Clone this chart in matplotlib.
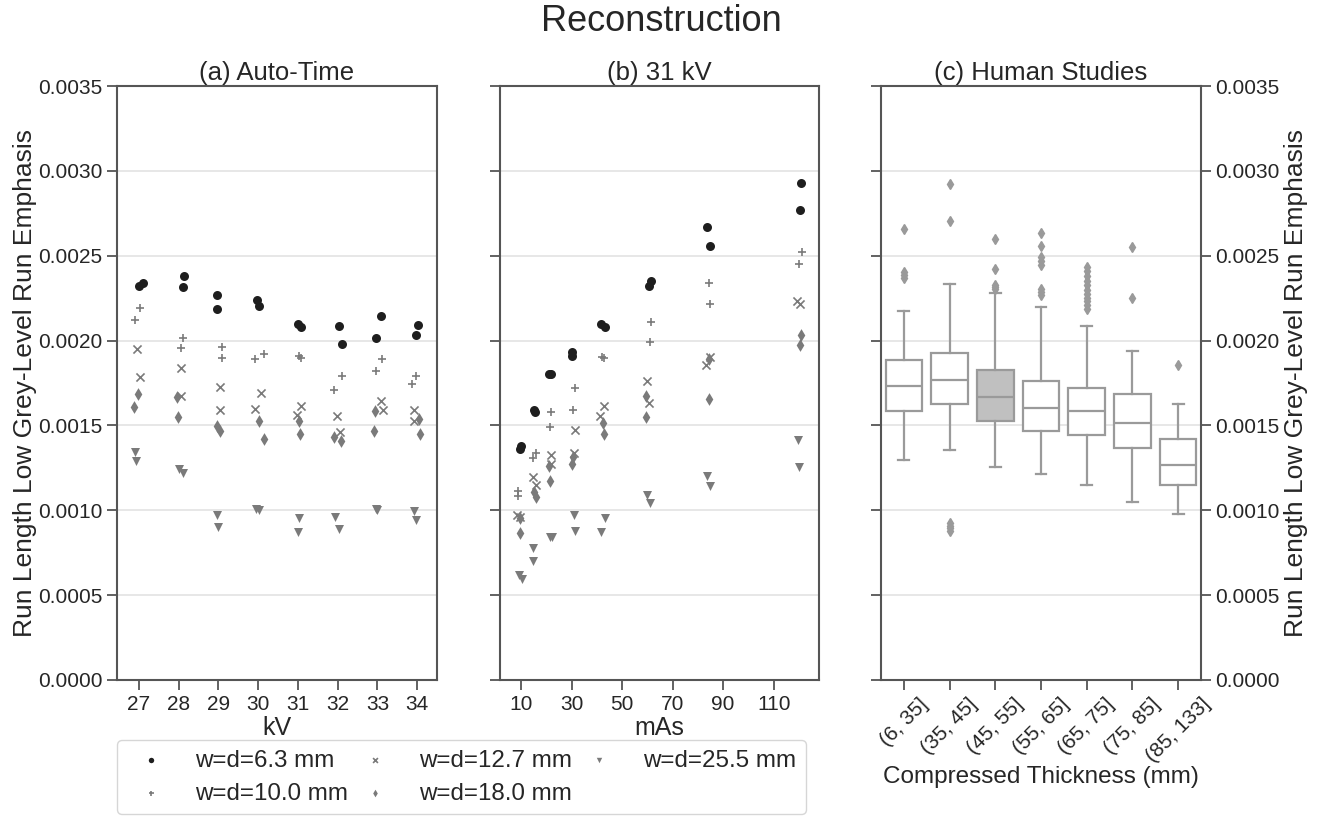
import matplotlib
matplotlib.use("Agg")
import matplotlib.pyplot as plt

plt.rcParams['font.family'] = ['Liberation Sans', 'DejaVu Sans']

# ---- (a) Auto-Time: kV vs value, two samples per kV ----
a_x_63 = [27.0, 27.11, 28.13, 28.1, 28.97, 28.97, 29.97, 30.02, 30.99, 31.08, 32.03, 32.1, 33.08, 32.97, 34.03, 33.97]
a_y_63 = [0.002322, 0.002338, 0.002382, 0.002314, 0.002270, 0.002188, 0.002240, 0.002205,
          0.002100, 0.002077, 0.002088, 0.001978, 0.002142, 0.002013, 0.002093, 0.002032]
a_x_100 = [27.02, 26.9, 28.12, 28.05, 29.09, 29.09, 29.91, 30.14, 31.02, 31.08, 32.11, 31.92, 33.12, 32.97, 33.98, 33.88]
a_y_100 = [0.002193, 0.002119, 0.002016, 0.001955, 0.001964, 0.001899, 0.001892, 0.001918,
           0.001908, 0.001897, 0.001794, 0.001708, 0.001892, 0.001820, 0.001792, 0.001745]
a_x_127 = [26.96, 27.03, 28.05, 28.05, 29.04, 29.03, 30.06, 29.91, 31.09, 30.97, 31.99, 32.05, 33.08, 33.13, 33.93, 33.92]
a_y_127 = [0.001948, 0.001785, 0.001841, 0.001673, 0.001729, 0.001593, 0.001691, 0.001598,
           0.001617, 0.001561, 0.001556, 0.001463, 0.001645, 0.001591, 0.001593, 0.001524]
a_x_180 = [26.97, 26.88, 27.97, 27.98, 28.97, 29.03, 30.03, 30.14, 31.02, 31.06, 31.92, 32.08, 32.94, 32.92, 34.04, 34.08]
a_y_180 = [0.001685, 0.001610, 0.001668, 0.001551, 0.001498, 0.001470, 0.001528, 0.001418,
           0.001524, 0.001451, 0.001430, 0.001411, 0.001586, 0.001470, 0.001535, 0.001451]
a_x_255 = [26.91, 26.92, 28.0, 28.11, 28.97, 29.0, 29.95, 30.02, 31.02, 31.01, 31.94, 32.04, 32.97, 33.0, 33.91, 33.97]
a_y_255 = [0.001346, 0.001288, 0.001241, 0.001218, 0.000973, 0.000903, 0.001010, 0.000999,
           0.000952, 0.000870, 0.000961, 0.000891, 0.001008, 0.000999, 0.000996, 0.000945]

# ---- (b) 31 kV: mAs vs value ----
b_x_63 = [10.0, 9.7, 15.0, 15.7, 21.0, 21.7, 30.1, 30.3, 41.5, 43.4, 60.7, 61.5, 83.5, 84.8, 120.9, 120.3]
b_y_63 = [0.001377, 0.001360, 0.001591, 0.001580, 0.001801, 0.001801, 0.001932, 0.001908,
          0.002100, 0.002077, 0.002322, 0.002352, 0.002667, 0.002555, 0.002928, 0.002770]
b_x_100 = [8.7, 8.7, 14.6, 16.0, 21.9, 21.3, 31.2, 30.5, 42.2, 42.7, 61.3, 61.0, 84.2, 84.6, 121.0, 119.9]
b_y_100 = [0.001113, 0.001085, 0.001307, 0.001337, 0.001580, 0.001488, 0.001722, 0.001589,
           0.001902, 0.001900, 0.002112, 0.001992, 0.002340, 0.002217, 0.002520, 0.002450]
b_x_127 = [8.4, 9.6, 14.6, 16.0, 21.7, 21.9, 31.5, 30.9, 42.7, 41.4, 59.7, 60.7, 84.6, 83.2, 119.3, 120.3]
b_y_127 = [0.000973, 0.000961, 0.001195, 0.001148, 0.001323, 0.001271, 0.001474, 0.001337,
           0.001617, 0.001556, 0.001762, 0.001633, 0.001902, 0.001855, 0.002235, 0.002217]
b_x_180 = [9.7, 9.6, 15.0, 16.0, 21.0, 21.3, 30.5, 30.3, 42.5, 42.7, 59.4, 59.4, 84.2, 84.4, 120.6, 120.2]
b_y_180 = [0.000957, 0.000868, 0.001108, 0.001078, 0.001260, 0.001171, 0.001313, 0.001271,
           0.001517, 0.001447, 0.001673, 0.001551, 0.001890, 0.001657, 0.002030, 0.001972]
b_x_255 = [9.3, 10.3, 14.6, 14.6, 21.3, 22.3, 30.8, 31.2, 43.1, 41.8, 59.7, 61.0, 83.5, 84.8, 119.5, 119.9]
b_y_255 = [0.000618, 0.000595, 0.000777, 0.000700, 0.000845, 0.000845, 0.000973, 0.000880,
           0.000952, 0.000870, 0.001090, 0.001045, 0.001202, 0.001143, 0.001416, 0.001253]

# ---- (c) Human studies: box statistics per thickness bin ----
c_labels = ['(6, 35]', '(35, 45]', '(45, 55]', '(55, 65]', '(65, 75]', '(75, 85]', '(85, 133]']
c_whislo = [0.001295, 0.001356, 0.001255, 0.001213, 0.001150, 0.001048, 0.000978]
c_q1 = [0.001584, 0.001626, 0.001528, 0.001468, 0.001442, 0.001365, 0.001150]
c_med = [0.001731, 0.001768, 0.001668, 0.001605, 0.001587, 0.001512, 0.001267]
c_q3 = [0.001888, 0.001925, 0.001829, 0.001762, 0.001722, 0.001684, 0.001418]
c_whishi = [0.002177, 0.002333, 0.002280, 0.002198, 0.002083, 0.001936, 0.001626]
c_fliers = [
    [0.002660, 0.002403, 0.002387, 0.002368],
    [0.002923, 0.002706, 0.000926, 0.000910, 0.000894, 0.000875],
    [0.002601, 0.002422, 0.002326, 0.002315, 0.002303],
    [0.002634, 0.002560, 0.002492, 0.002468, 0.002445, 0.002305, 0.002287, 0.002270],
    [0.002434, 0.002408, 0.002380, 0.002352, 0.002326, 0.002298, 0.002272, 0.002251,
     0.002233, 0.002209, 0.002188],
    [0.002550, 0.002251],
    [0.001857],
]
c_highlight = 2

series_labels = ['w=d=6.3 mm', 'w=d=10.0 mm', 'w=d=12.7 mm', 'w=d=18.0 mm', 'w=d=25.5 mm']
markers = ['o', '+', 'x', 'd', 'v']
colors = ['#1e1e1e', '#7a7a7a', '#7a7a7a', '#7a7a7a', '#7a7a7a']
sizes = [42, 36, 34, 42, 42]

spine_col = '#555555'
text_col = '#262626'
grid_col = '#e3e3e3'
yticks = [0.0, 0.0005, 0.0010, 0.0015, 0.0020, 0.0025, 0.0030, 0.0035]
ylab = 'Run Length Low Grey-Level Run Emphasis'

fig = plt.figure(figsize=(13.22, 8.16), dpi=100)
ax_a = fig.add_axes([0.0885, 0.1667, 0.2421, 0.7279])
ax_b = fig.add_axes([0.3782, 0.1667, 0.2413, 0.7279])
ax_c = fig.add_axes([0.6664, 0.1667, 0.2421, 0.7279])


def style(ax):
    ax.set_ylim(0, 0.0035)
    ax.set_yticks(yticks)
    ax.yaxis.grid(True, color=grid_col, lw=1.2)
    ax.set_axisbelow(True)
    for s in ax.spines.values():
        s.set_color(spine_col)
        s.set_linewidth(1.5)
    ax.tick_params(axis='both', colors=spine_col, labelcolor=text_col, labelsize=15,
                   length=7, width=1.3, direction='out')


a_data = [(a_x_63, a_y_63), (a_x_100, a_y_100), (a_x_127, a_y_127), (a_x_180, a_y_180), (a_x_255, a_y_255)]
b_data = [(b_x_63, b_y_63), (b_x_100, b_y_100), (b_x_127, b_y_127), (b_x_180, b_y_180), (b_x_255, b_y_255)]

handles = []
for i in range(5):
    lw = 1.2 if markers[i] in ('+', 'x') else 0
    h = ax_a.scatter(a_data[i][0], a_data[i][1], marker=markers[i], s=sizes[i], c=colors[i],
                     linewidths=lw, label=series_labels[i], zorder=3)
    ax_b.scatter(b_data[i][0], b_data[i][1], marker=markers[i], s=sizes[i], c=colors[i],
                 linewidths=lw, zorder=3)
    handles.append(h)

style(ax_a)
ax_a.set_xlim(26.45, 34.5)
ax_a.set_xticks(range(27, 35))
ax_a.set_title('(a) Auto-Time', fontsize=18.5, color=text_col, pad=4)
ax_a.set_xlabel('kV', fontsize=18, color=text_col, labelpad=2)
ax_a.set_ylabel(ylab, fontsize=19, color=text_col, labelpad=1)
ax_a.yaxis.set_major_formatter(matplotlib.ticker.FormatStrFormatter('%.4f'))

style(ax_b)
ax_b.set_xlim(1.7, 127.9)
ax_b.set_xticks([10, 30, 50, 70, 90, 110])
ax_b.set_yticklabels([])
ax_b.set_title('(b) 31 kV', fontsize=18.5, color=text_col, pad=4)
ax_b.set_xlabel('mAs', fontsize=18, color=text_col, labelpad=2)

# boxplot
stats = []
for i in range(len(c_labels)):
    stats.append(dict(med=c_med[i], q1=c_q1[i], q3=c_q3[i], whislo=c_whislo[i],
                      whishi=c_whishi[i], fliers=c_fliers[i], label=c_labels[i]))
box_col = '#9a9a9a'
bp = ax_c.bxp(stats, positions=range(len(c_labels)), widths=0.8, patch_artist=True,
              boxprops=dict(edgecolor=box_col, linewidth=1.6, facecolor='white'),
              medianprops=dict(color=box_col, linewidth=1.6),
              whiskerprops=dict(color=box_col, linewidth=1.6),
              capprops=dict(color=box_col, linewidth=1.6),
              flierprops=dict(marker='d', markerfacecolor=box_col, markeredgecolor=box_col,
                              markersize=5), capwidths=0.24)
bp['boxes'][c_highlight].set_facecolor('#c0c0c0')
style(ax_c)
ax_c.set_xlim(-0.5, 6.5)
ax_c.yaxis.tick_right()
ax_c.yaxis.set_label_position('right')
ax_c.tick_params(axis='y', left=True, right=True)
ax_c.yaxis.set_major_formatter(matplotlib.ticker.FormatStrFormatter('%.4f'))
ax_c.set_ylabel(ylab, fontsize=19, color=text_col, labelpad=3)
ax_c.set_xticklabels(c_labels, rotation=45, ha='center')
ax_c.set_title('(c) Human Studies', fontsize=18.5, color=text_col, pad=4)
ax_c.set_xlabel('Compressed Thickness (mm)', fontsize=17.5, color=text_col, labelpad=0)

fig.suptitle('Reconstruction', fontsize=26, color=text_col, y=0.974, va='center')

leg = fig.legend(handles=handles, labels=series_labels, ncol=3, loc='upper center',
                 bbox_to_anchor=(0.349, 0.0931), fontsize=17.4, markerscale=0.6,
                 frameon=True, handlelength=2.0, handletextpad=0.83, columnspacing=0.1,
                 borderpad=0.4, labelspacing=0.45, borderaxespad=0)
leg.get_frame().set_edgecolor('#cccccc')
for t in leg.get_texts():
    t.set_color(text_col)

fig.savefig('out.png', dpi=100)
